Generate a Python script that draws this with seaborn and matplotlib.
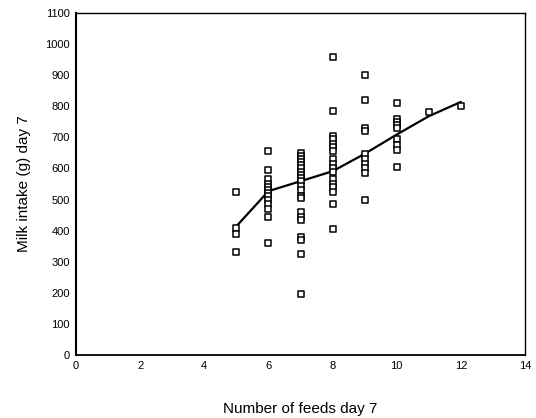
import matplotlib
matplotlib.use("Agg")
import matplotlib.pyplot as plt
import seaborn as sns
import pandas as pd

# Scatter data: number of feeds (x) and milk intake (y)
feeds_5 = [525, 410, 390, 330]
feeds_6 = [655, 595, 565, 550, 540, 530, 520, 510, 500, 485, 470, 445, 360]
feeds_7 = [650, 640, 630, 620, 610, 600, 590, 580, 570, 560, 545, 530, 510,
           505, 460, 445, 435, 380, 370, 325, 195]
feeds_8 = [960, 785, 705, 695, 680, 670, 655, 630, 615, 600, 590, 565, 550,
           540, 525, 485, 405]
feeds_9 = [900, 820, 730, 720, 645, 630, 615, 600, 585, 500]
feeds_10 = [810, 760, 750, 740, 730, 695, 675, 660, 605]
feeds_11 = [780]
feeds_12 = [800]

groups = {5: feeds_5, 6: feeds_6, 7: feeds_7, 8: feeds_8, 9: feeds_9,
          10: feeds_10, 11: feeds_11, 12: feeds_12}

# Fitted line values
line_x = [5, 6, 7, 8, 9, 10, 11, 12]
line_y = [414, 527, 559, 591, 647, 709, 768, 814]

x_ticks = [0, 2, 4, 6, 8, 10, 12, 14]
y_ticks = list(range(0, 1101, 100))

rows = [(k, v) for k, vals in groups.items() for v in vals]
df = pd.DataFrame(rows, columns=["feeds", "intake"])
line_df = pd.DataFrame({"feeds": line_x, "intake": line_y})

sns.set_style("white")
plt.rcParams["font.family"] = ["Liberation Sans", "DejaVu Sans"]
plt.rcParams["text.color"] = "black"
plt.rcParams["axes.labelcolor"] = "black"
plt.rcParams["xtick.color"] = "black"
plt.rcParams["ytick.color"] = "black"

fig = plt.figure(figsize=(5.36, 4.18), dpi=100)
ax = fig.add_axes([76 / 536, 1 - 355 / 418, (525 - 76) / 536, (355 - 13) / 418])

sns.lineplot(data=line_df, x="feeds", y="intake", ax=ax, color="black",
             linewidth=1.6, zorder=2)
sns.scatterplot(data=df, x="feeds", y="intake", ax=ax, marker="s", s=16,
                facecolors="white", edgecolor="black", linewidth=1.1, zorder=3)

ax.set_xlim(0, 14)
ax.set_ylim(0, 1100)
ax.set_xticks(x_ticks)
ax.set_yticks(y_ticks)
ax.tick_params(axis="both", labelsize=8, length=3, width=1.2, direction="inout",
               colors="black", pad=3)
for sp in ax.spines.values():
    sp.set_color("black")
    sp.set_linewidth(1.0)
ax.spines["left"].set_linewidth(1.5)
ax.spines["bottom"].set_linewidth(1.3)

ax.set_xlabel("Number of feeds day 7", fontsize=11, labelpad=22, color="black")
ax.set_ylabel("Milk intake (g) day 7", fontsize=11, labelpad=10, color="black")

fig.savefig("out.png", dpi=100)
